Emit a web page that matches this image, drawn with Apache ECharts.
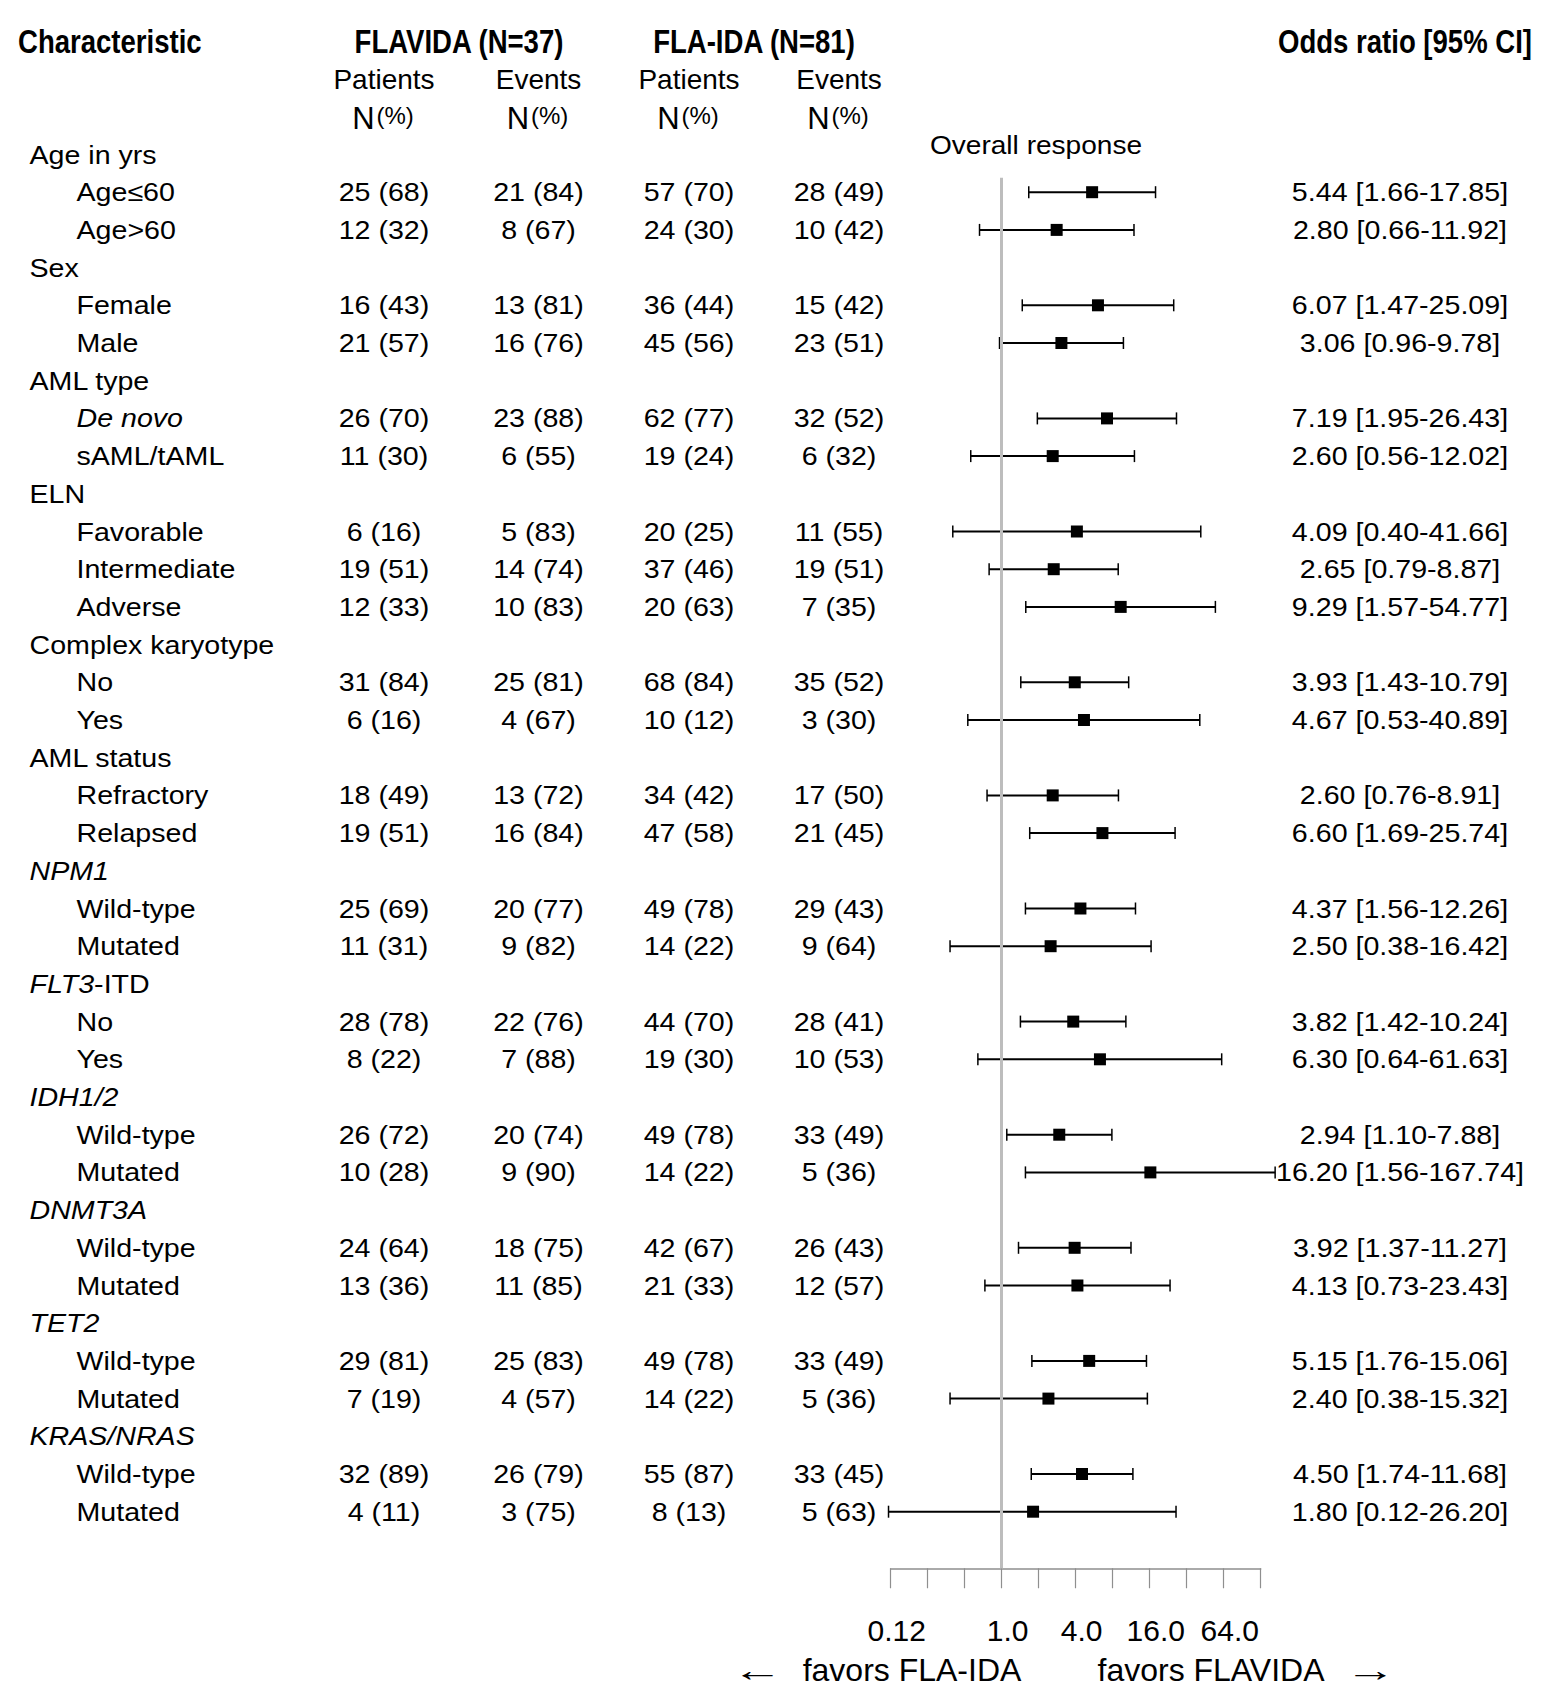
<!DOCTYPE html>
<html><head><meta charset="utf-8">
<script src="https://cdn.jsdelivr.net/npm/echarts@6/dist/echarts.min.js"></script>
<style>html,body{margin:0;padding:0;background:#fff}#c{width:1553px;height:1706px}</style>
</head><body><div id="c"></div>
<script>
// ---------- data ----------
const rowLabels = ['Age in yrs','Age\u226460','Age>60','Sex','Female','Male','AML type','{i|De novo}','sAML/tAML','ELN','Favorable','Intermediate','Adverse','Complex karyotype','No','Yes','AML status','Refractory','Relapsed','{i|NPM1}','Wild-type','Mutated','{i|FLT3}-ITD','No','Yes','{i|IDH1/2}','Wild-type','Mutated','{i|DNMT3A}','Wild-type','Mutated','{i|TET2}','Wild-type','Mutated','{i|KRAS/NRAS}','Wild-type','Mutated'];
const rowLevel = [0,1,1,0,1,1,0,1,1,0,1,1,1,0,1,1,0,1,1,0,1,1,0,1,1,0,1,1,0,1,1,0,1,1,0,1,1];
const flavidaPatN   = [null,25,12,null,16,21,null,26,11,null,6,19,12,null,31,6,null,18,19,null,25,11,null,28,8,null,26,10,null,24,13,null,29,7,null,32,4];
const flavidaPatPct = [null,68,32,null,43,57,null,70,30,null,16,51,33,null,84,16,null,49,51,null,69,31,null,78,22,null,72,28,null,64,36,null,81,19,null,89,11];
const flavidaEvtN   = [null,21,8,null,13,16,null,23,6,null,5,14,10,null,25,4,null,13,16,null,20,9,null,22,7,null,20,9,null,18,11,null,25,4,null,26,3];
const flavidaEvtPct = [null,84,67,null,81,76,null,88,55,null,83,74,83,null,81,67,null,72,84,null,77,82,null,76,88,null,74,90,null,75,85,null,83,57,null,79,75];
const flaidaPatN    = [null,57,24,null,36,45,null,62,19,null,20,37,20,null,68,10,null,34,47,null,49,14,null,44,19,null,49,14,null,42,21,null,49,14,null,55,8];
const flaidaPatPct  = [null,70,30,null,44,56,null,77,24,null,25,46,63,null,84,12,null,42,58,null,78,22,null,70,30,null,78,22,null,67,33,null,78,22,null,87,13];
const flaidaEvtN    = [null,28,10,null,15,23,null,32,6,null,11,19,7,null,35,3,null,17,21,null,29,9,null,28,10,null,33,5,null,26,12,null,33,5,null,33,5];
const flaidaEvtPct  = [null,49,42,null,42,51,null,52,32,null,55,51,35,null,52,30,null,50,45,null,43,64,null,41,53,null,49,36,null,43,57,null,49,36,null,45,63];
const orEst  = [null,5.44,2.80,null,6.07,3.06,null,7.19,2.60,null,4.09,2.65,9.29,null,3.93,4.67,null,2.60,6.60,null,4.37,2.50,null,3.82,6.30,null,2.94,16.20,null,3.92,4.13,null,5.15,2.40,null,4.50,1.80];
const ciLow  = [null,1.66,0.66,null,1.47,0.96,null,1.95,0.56,null,0.40,0.79,1.57,null,1.43,0.53,null,0.76,1.69,null,1.56,0.38,null,1.42,0.64,null,1.10,1.56,null,1.37,0.73,null,1.76,0.38,null,1.74,0.12];
const ciHigh = [null,17.85,11.92,null,25.09,9.78,null,26.43,12.02,null,41.66,8.87,54.77,null,10.79,40.89,null,8.91,25.74,null,12.26,16.42,null,10.24,61.63,null,7.88,167.74,null,11.27,23.43,null,15.06,15.32,null,11.68,26.20];
const axisTickValues = [0.125, 0.25, 0.5, 1, 2, 4, 8, 16, 32, 64, 128];
const tickValues = [0.125, 1, 4, 16, 64];
const tickLabels = ['0.12', '1.0', '4.0', '16.0', '64.0'];

// ---------- style / layout ----------
const FONT = "'Liberation Sans', Arial, Helvetica, sans-serif";
const FS = 26, SX = 1.1;
const colX = [384, 538.5, 689, 839];
const orX = 1400;
const labelX = [29.5, 76.5];

function t(x, y, text, o) {
  o = o || {};
  return {
    type: 'text', x: x, y: y, scaleX: o.sx == null ? 1 : o.sx, silent: true,
    style: {
      text: text, fontFamily: o.ff || FONT, fontSize: o.fs || FS, fontWeight: o.fw || 'normal',
      fill: '#000', align: o.align || 'center', verticalAlign: 'middle', rich: o.rich
    }
  };
}
const fmt = (n, p) => n == null ? '' : n + ' (' + p + ')';
const italicRich = { i: { fontFamily: FONT, fontSize: FS, fontStyle: 'italic', fill: '#000' } };

const tableData = rowLabels.map((_, i) => [1, i]);
const forestData = [];
orEst.forEach((v, i) => { if (v != null) forestData.push([v, i, ciLow[i], ciHigh[i]]); });

const BOLD = { fw: 'bold', fs: 33, sx: 0.835 };
const pctRich = {
  n: { fontFamily: FONT, fontSize: 31, fill: '#000' },
  p: { fontFamily: FONT, fontSize: 24, fill: '#000', padding: [0, 0, 6, 2] }
};
const graphics = [
  t(18, 41, 'Characteristic', Object.assign({ align: 'left' }, BOLD)),
  t(459, 41, 'FLAVIDA (N=37)', BOLD),
  t(754, 41, 'FLA-IDA (N=81)', BOLD),
  t(1532, 41, 'Odds ratio [95% CI]', Object.assign({ align: 'right' }, BOLD)),
  t(1036, 145, 'Overall response', { sx: 1.08 }),
  t(757, 1670, '\u2190', { fs: 32, sx: 1.6 }),
  t(912, 1670, 'favors FLA-IDA', { fs: 32 }),
  t(1211, 1670, 'favors FLAVIDA', { fs: 32 }),
  t(1370, 1670, '\u2192', { fs: 32, sx: 1.6 })
];
['Patients', 'Events', 'Patients', 'Events'].forEach((s, k) => {
  graphics.push(t(colX[k], 79, s, { fs: 28 }));
  graphics.push(t(colX[k] - 1, 118, '{n|N}{p|(%)}', { rich: pctRich }));
});

const chart = echarts.init(document.getElementById('c'), null, { renderer: 'svg' });
chart.setOption({
  animation: false,
  backgroundColor: '#fff',
  grid: { left: 890.7, right: 292.3, top: 173.35, bottom: 137.75, containLabel: false, outerBoundsMode: 'none' },
  xAxis: {
    type: 'log', logBase: 2, min: 0.125, max: 128,
    axisLine: { show: true, lineStyle: { color: '#8f8f8f', width: 1.5 } },
    axisTick: { show: true, length: 20, customValues: axisTickValues, lineStyle: { color: '#8f8f8f', width: 1.2 } },
    splitLine: { show: false },
    axisLabel: {
      show: true, margin: 47, fontSize: 30, fontFamily: FONT, color: '#000',
      customValues: tickValues, hideOverlap: false, padding: [0, 0, 0, 12],
      formatter: function (v) {
        for (let k = 0; k < tickValues.length; k++) {
          if (Math.abs(v - tickValues[k]) / tickValues[k] < 1e-6) return tickLabels[k];
        }
        return '';
      }
    }
  },
  yAxis: { type: 'value', inverse: true, min: 0.5, max: 37.5, show: false },
  graphic: { elements: graphics },
  series: [
    {
      type: 'custom', name: 'table', clip: false, silent: true,
      data: tableData,
      renderItem: function (params, api) {
        const i = api.value(1);
        const y = api.coord([1, i])[1];
        const ch = [];
        ch.push(t(labelX[rowLevel[i]], y, rowLabels[i], { align: 'left', sx: SX, rich: italicRich }));
        if (flavidaPatN[i] != null) {
          ch.push(t(colX[0], y, fmt(flavidaPatN[i], flavidaPatPct[i]), { sx: SX }));
          ch.push(t(colX[1], y, fmt(flavidaEvtN[i], flavidaEvtPct[i]), { sx: SX }));
          ch.push(t(colX[2], y, fmt(flaidaPatN[i], flaidaPatPct[i]), { sx: SX }));
          ch.push(t(colX[3], y, fmt(flaidaEvtN[i], flaidaEvtPct[i]), { sx: SX }));
        }
        if (orEst[i] != null) {
          ch.push(t(orX, y, orEst[i].toFixed(2) + ' [' + ciLow[i].toFixed(2) + '-' + ciHigh[i].toFixed(2) + ']', { sx: SX }));
        }
        return { type: 'group', children: ch };
      },
      markLine: {
        silent: true, symbol: ['none', 'none'], label: { show: false },
        lineStyle: { color: '#bdbdbd', width: 3, type: 'solid' },
        data: [[{ coord: [1, 0.62] }, { coord: [1, 37.5] }]]
      }
    },
    {
      type: 'custom', name: 'forest', clip: false, silent: true,
      data: forestData,
      renderItem: function (params, api) {
        const p = api.coord([api.value(0), api.value(1)]);
        const lo = api.coord([api.value(2), api.value(1)]);
        const hi = api.coord([api.value(3), api.value(1)]);
        const cap = 6, s = 12;
        return {
          type: 'group', children: [
            { type: 'line', shape: { x1: lo[0], y1: p[1], x2: hi[0], y2: p[1] }, style: { stroke: '#000', lineWidth: 2 } },
            { type: 'line', shape: { x1: lo[0], y1: p[1] - cap, x2: lo[0], y2: p[1] + cap }, style: { stroke: '#000', lineWidth: 1.5 } },
            { type: 'line', shape: { x1: hi[0], y1: p[1] - cap, x2: hi[0], y2: p[1] + cap }, style: { stroke: '#000', lineWidth: 1.5 } },
            { type: 'rect', shape: { x: p[0] - s / 2, y: p[1] - s / 2, width: s, height: s }, style: { fill: '#000' } }
          ]
        };
      }
    }
  ]
});
</script></body></html>
